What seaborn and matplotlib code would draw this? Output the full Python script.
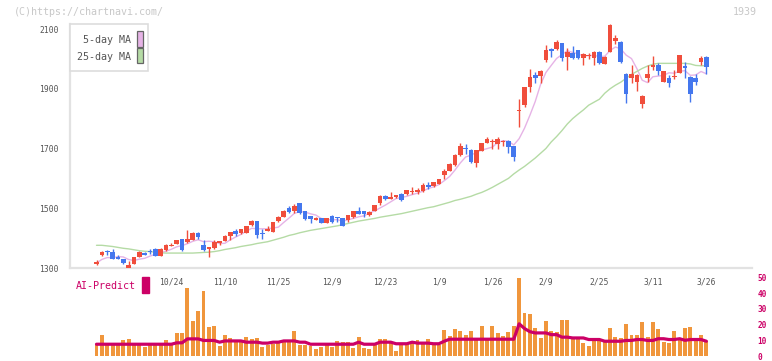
import numpy as np
import pandas as pd
import matplotlib
matplotlib.use("Agg")
import matplotlib.pyplot as plt
from matplotlib.patches import Rectangle
import matplotlib.transforms as mtransforms
import seaborn as sns

# ---------------- data ----------------
# candle index starts at -1 (a lone doji at the left edge), then 0..114
opens = [1312,
         1312, 1345, 1356, 1353, 1338, 1329, 1301, 1315, 1337, 1351,
         1355, 1365, 1341, 1360, 1374, 1381, 1397, 1388, 1395, 1417,
         1377, 1365, 1366, 1385, 1391, 1408, 1424, 1416, 1418, 1444,
         1457, 1416, 1425, 1422, 1457, 1472, 1501, 1491, 1516, 1491,
         1474, 1461, 1468, 1452, 1474, 1470, 1466, 1461, 1470, 1491,
         1490, 1477, 1491, 1519, 1541, 1531, 1539, 1548, 1548, 1556,
         1554, 1559, 1578, 1574, 1581, 1612, 1626, 1645, 1678, 1700,
         1695, 1650, 1693, 1720, 1721, 1714, 1721, 1725, 1708, 1825,
         1846, 1907, 1946, 1944, 1996, 2033, 2032, 2052, 2005, 2021,
         2030, 2002, 2010, 2004, 2023, 1984, 2024, 2061, 2058, 1948,
         1935, 1924, 1848, 1937, 1974, 1979, 1924, 1937, 1938, 1954,
         1977, 1940, 1935, 1991, 2006]
highs = [1312,
         1327, 1357, 1360, 1362, 1342, 1330, 1324, 1338, 1356, 1354,
         1365, 1366, 1366, 1379, 1383, 1395, 1398, 1427, 1420, 1420,
         1393, 1370, 1393, 1392, 1411, 1422, 1430, 1432, 1442, 1462,
         1458, 1431, 1441, 1455, 1473, 1494, 1508, 1513, 1517, 1492,
         1475, 1472, 1469, 1469, 1478, 1472, 1467, 1478, 1492, 1503,
         1491, 1490, 1512, 1544, 1543, 1554, 1545, 1552, 1562, 1570,
         1569, 1585, 1587, 1589, 1599, 1631, 1650, 1682, 1717, 1715,
         1697, 1695, 1720, 1737, 1733, 1738, 1728, 1727, 1710, 1866,
         1907, 1965, 1957, 1962, 2046, 2036, 2063, 2053, 2037, 2043,
         2031, 2020, 2018, 2025, 2025, 2010, 2116, 2080, 2060, 1954,
         1979, 1948, 1879, 1979, 2010, 1987, 1961, 1946, 1963, 2014,
         1988, 1942, 1948, 2010, 2008]
lows = [1312,
        1311, 1340, 1342, 1330, 1330, 1312, 1300, 1314, 1336, 1342,
        1347, 1340, 1340, 1357, 1372, 1380, 1358, 1385, 1394, 1397,
        1358, 1338, 1363, 1378, 1389, 1394, 1408, 1414, 1416, 1440,
        1400, 1397, 1423, 1420, 1453, 1470, 1485, 1483, 1482, 1462,
        1451, 1459, 1449, 1451, 1450, 1455, 1441, 1455, 1469, 1480,
        1470, 1475, 1490, 1511, 1527, 1530, 1533, 1525, 1546, 1547,
        1547, 1556, 1563, 1570, 1580, 1599, 1625, 1641, 1675, 1681,
        1650, 1639, 1692, 1718, 1700, 1700, 1708, 1686, 1659, 1773,
        1840, 1890, 1920, 1920, 1991, 2007, 2030, 1993, 1963, 2000,
        2000, 1979, 2000, 1979, 1984, 1982, 2022, 2049, 1987, 1851,
        1918, 1892, 1834, 1923, 1963, 1946, 1922, 1907, 1934, 1952,
        1937, 1857, 1912, 1978, 1948]
closes = [1312,
          1321, 1353, 1354, 1331, 1331, 1316, 1310, 1337, 1354, 1345,
          1353, 1341, 1365, 1377, 1378, 1394, 1361, 1397, 1417, 1404,
          1361, 1369, 1387, 1389, 1407, 1420, 1415, 1431, 1441, 1457,
          1412, 1415, 1431, 1454, 1472, 1491, 1489, 1509, 1483, 1463,
          1463, 1468, 1452, 1468, 1455, 1466, 1442, 1476, 1491, 1482,
          1482, 1489, 1511, 1541, 1530, 1537, 1544, 1528, 1561, 1558,
          1561, 1578, 1572, 1588, 1598, 1625, 1649, 1678, 1708, 1698,
          1656, 1694, 1718, 1732, 1724, 1732, 1725, 1706, 1673, 1829,
          1906, 1940, 1937, 1959, 2030, 2025, 2056, 2002, 2022, 2003,
          2002, 2016, 2013, 2023, 1985, 2007, 2113, 2071, 1991, 1881,
          1949, 1946, 1876, 1951, 1979, 1960, 1959, 1918, 1944, 2013,
          1968, 1882, 1924, 2002, 1974]

ma25 = [1376, 1376, 1374, 1372, 1369, 1366, 1364, 1361, 1358, 1356,
        1355, 1353, 1351, 1350, 1350, 1350, 1350, 1350, 1350, 1351,
        1352, 1353, 1355, 1358, 1362, 1365, 1368, 1372, 1375, 1378,
        1382, 1385, 1388, 1393, 1398, 1403, 1409, 1413, 1418, 1422,
        1426, 1429, 1432, 1435, 1438, 1441, 1445, 1449, 1453, 1457,
        1460, 1463, 1466, 1470, 1473, 1476, 1479, 1482, 1486, 1490,
        1494, 1498, 1502, 1505, 1510, 1515, 1520, 1526, 1530, 1535,
        1540, 1547, 1553, 1561, 1570, 1580, 1590, 1600, 1615, 1628,
        1640, 1654, 1668, 1684, 1700, 1722, 1740, 1760, 1782, 1800,
        1815, 1829, 1845, 1855, 1865, 1885, 1900, 1912, 1922, 1935,
        1948, 1958, 1968, 1976, 1982, 1985, 1985, 1985, 1985, 1985,
        1985, 1983, 1978, 1977, 1977]

volume = [7.1, 13.4, 7.1, 7.1, 7.1, 10.3, 10.9, 7.1, 7.1, 5.9,
          7.1, 7.1, 7.1, 10.3, 7.1, 14.7, 14.7, 43.0, 22.4, 28.5,
          41.7, 18.4, 19.1, 6.5, 13.4, 11.5, 9.6, 9.0, 12.2, 10.9,
          11.5, 5.9, 7.1, 7.8, 8.4, 9.6, 9.6, 15.9, 7.1, 7.1,
          6.5, 4.6, 5.9, 7.1, 5.9, 9.6, 9.0, 9.0, 5.2, 12.2,
          5.2, 4.6, 7.1, 10.9, 10.9, 8.8, 3.1, 6.9, 8.0, 8.0,
          10.3, 8.0, 10.9, 6.9, 6.9, 16.6, 12.8, 17.2, 15.9, 13.4,
          15.7, 11.5, 19.1, 10.9, 19.1, 14.7, 12.8, 15.3, 19.1, 49.9,
          27.2, 26.6, 17.8, 11.5, 22.2, 15.9, 15.3, 22.8, 22.8, 11.5,
          11.5, 8.4, 6.5, 9.6, 10.9, 9.6, 17.8, 12.2, 11.5, 20.3,
          13.4, 13.4, 21.6, 12.2, 21.6, 17.2, 9.0, 8.4, 15.9, 10.3,
          17.8, 18.4, 11.5, 13.4, 9.6]

ai_predict = [7.5, 7.5, 7.5, 7.5, 7.5, 7.5, 7.5, 7.5, 7.5, 7.5,
              7.5, 7.5, 7.5, 7.5, 7.5, 8.4, 8.4, 10.9, 10.9, 10.9,
              9.9, 9.9, 9.9, 8.8, 9.6, 9.6, 9.6, 9.6, 8.8, 8.8,
              8.8, 8.2, 8.2, 8.8, 8.8, 9.6, 9.6, 9.6, 8.8, 8.8,
              7.5, 7.5, 7.5, 7.5, 7.5, 7.5, 7.5, 7.5, 7.5, 8.8,
              7.5, 7.5, 7.5, 8.8, 8.8, 8.8, 7.8, 7.8, 7.8, 8.8,
              8.2, 8.2, 8.2, 7.8, 7.8, 9.4, 10.7, 10.7, 10.7, 10.7,
              10.7, 10.7, 10.7, 10.7, 10.7, 10.7, 10.7, 10.7, 10.7, 20.5,
              17.5, 15.5, 14.7, 14.7, 14.7, 13.6, 13.6, 12.0, 12.0, 11.5,
              11.5, 11.5, 10.5, 10.5, 10.5, 9.4, 9.4, 9.4, 9.4, 9.9,
              9.9, 10.5, 10.5, 9.9, 9.9, 11.0, 11.0, 10.5, 10.5, 11.0,
              10.0, 10.5, 10.5, 10.5, 9.4]

date_labels = ["10/24", "11/10", "11/25", "12/9", "12/23", "1/9",
               "1/26", "2/9", "2/25", "3/11", "3/26"]
date_label_pos = [14, 24, 34, 44, 54, 64, 74, 84, 94, 104, 114]
price_ticks = [1300, 1500, 1700, 1900, 2100]
vol_ticks = [0, 10, 20, 30, 40, 50]

# ---------------- styling ----------------
sns.set_style("white")
plt.rcParams['font.family'] = ['DejaVu Sans Mono', 'DejaVu Sans']

UP = '#f04e3c'
DOWN = '#4477ee'
VOLC = '#f0963c'
MAG = '#cc0066'
MA5C = '#e6b3e6'
MA25C = '#b5dba5'
AXC = '#e2e2e2'
TXT = '#555555'

W, H = 772, 361
fig = plt.figure(figsize=(W / 100, H / 100), dpi=100)


def fx(x):
    return x / W


def fy(y):
    return 1 - y / H


X0, X1 = 70, 752
PX_PER = 5.35
XC0 = 96.5
xlim = ((X0 - XC0) / PX_PER, (X1 - XC0) / PX_PER)

VB, VT = 356, 276          # volume panel bottom / top (pixels)
VPX = 1.57                 # pixels per volume unit

ax = fig.add_axes([fx(X0), fy(268), (X1 - X0) / W, (268 - 24) / H])
axv = fig.add_axes([fx(X0), fy(VB), (X1 - X0) / W, (VB - VT) / H])
axv.patch.set_alpha(0)

# ---------------- candles ----------------
cx = np.arange(-1, len(closes) - 1)
o = np.array(opens, float)
c = np.array(closes, float)
hi = np.array(highs, float)
lo = np.array(lows, float)
up = c >= o
cols = np.where(up, UP, DOWN)
ax.vlines(cx, lo, hi, colors=cols, linewidth=1.0, zorder=3)
body_bottom = np.minimum(o, c)
body_h = np.maximum(np.abs(c - o), 3.0)
ax.bar(cx, body_h, bottom=body_bottom, width=0.86, color=cols,
       linewidth=0, zorder=4)

# ---------------- moving averages ----------------
ma5 = pd.Series(closes).rolling(5, min_periods=1).mean().to_numpy()
mask = cx >= 0
sns.lineplot(x=cx[mask], y=ma5[mask], ax=ax, color=MA5C, linewidth=1.0,
             estimator=None)
sns.lineplot(x=np.arange(len(ma25)), y=ma25, ax=ax, color=MA25C,
             linewidth=1.0, estimator=None)
for ln in ax.lines:
    ln.set_zorder(2)

ax.set_xlim(*xlim)
ax.set_ylim(1300, 1300 + (268 - 24) * (800 / 239))
ax.set_yticks(price_ticks)
ax.set_yticklabels([str(t) for t in price_ticks])
ax.set_xticks(np.linspace(xlim[0], xlim[1], 12))
ax.set_xticklabels([])
ax.tick_params(axis='y', direction='inout', length=6, width=1, color='#d4d4d4',
               labelsize=5.8, labelcolor=TXT, pad=5)
ax.tick_params(axis='x', direction='inout', length=6, width=1, color='#d4d4d4')
for s in ['top', 'right']:
    ax.spines[s].set_visible(False)
for s in ['left', 'bottom']:
    ax.spines[s].set_color(AXC)
    ax.spines[s].set_linewidth(1.6)
ax.set_xlabel('')
ax.set_ylabel('')
ax.grid(False)

# ---------------- volume + AI predict ----------------
vx = np.arange(len(volume))
vdf = pd.DataFrame({'x': vx, 'vol': volume})
sns.barplot(data=vdf, x='x', y='vol', ax=axv, native_scale=True,
            color=VOLC, saturation=1, width=0.74, errorbar=None, linewidth=0)
sns.lineplot(x=vx, y=ai_predict, ax=axv, color=MAG, linewidth=2.3,
             estimator=None)
axv.set_xlim(*xlim)
axv.set_ylim(0, (VB - VT) / VPX)
axv.set_xticks([])
axv.yaxis.tick_right()
axv.set_yticks(vol_ticks)
axv.set_yticklabels([str(t) for t in vol_ticks])
axv.tick_params(axis='y', length=0, pad=4, labelsize=5.6, labelcolor=MAG)
for lab in axv.get_yticklabels():
    lab.set_fontweight('bold')
for s in axv.spines.values():
    s.set_visible(False)
axv.set_xlabel('')
axv.set_ylabel('')
axv.grid(False)

trans = mtransforms.blended_transform_factory(axv.transData, axv.transAxes)
for p, lab in zip(date_label_pos, date_labels):
    axv.text(p, (VB - 282) / (VB - VT), lab, transform=trans, ha='center',
             va='center', fontsize=5.8, color=TXT)

fig.text(fx(76), fy(286), 'AI-Predict', color=MAG, fontsize=7.2,
         va='center', ha='left')
fig.patches.append(Rectangle((fx(142), fy(293)), 7 / W, 16 / H,
                             transform=fig.transFigure, color=MAG))

# ---------------- legend (manual) ----------------
fig.patches.append(Rectangle((fx(70), fy(71)), 78 / W, 47 / H,
                             transform=fig.transFigure, facecolor='white',
                             edgecolor='#dddddd', linewidth=1.2, zorder=5))
fig.text(fx(131), fy(40), '5-day MA', ha='right', va='center', fontsize=7.2,
         color=TXT, zorder=6)
fig.text(fx(131), fy(57), '25-day MA', ha='right', va='center', fontsize=7.2,
         color=TXT, zorder=6)
fig.patches.append(Rectangle((fx(136.5), fy(46.5)), 6 / W, 15 / H,
                             transform=fig.transFigure, facecolor=MA5C,
                             edgecolor='#666666', linewidth=0.9, zorder=6))
fig.patches.append(Rectangle((fx(136.5), fy(63)), 6 / W, 15 / H,
                             transform=fig.transFigure, facecolor=MA25C,
                             edgecolor='#666666', linewidth=0.9, zorder=6))

# ---------------- header texts ----------------
fig.text(fx(14), fy(12), '(C)https://chartnavi.com/', color='#c8c8c8',
         fontsize=7.2, va='center', ha='left')
fig.text(fx(757), fy(12), '1939', color='#c8c8c8', fontsize=7.2,
         va='center', ha='right')

fig.savefig('out.png', dpi=100)
